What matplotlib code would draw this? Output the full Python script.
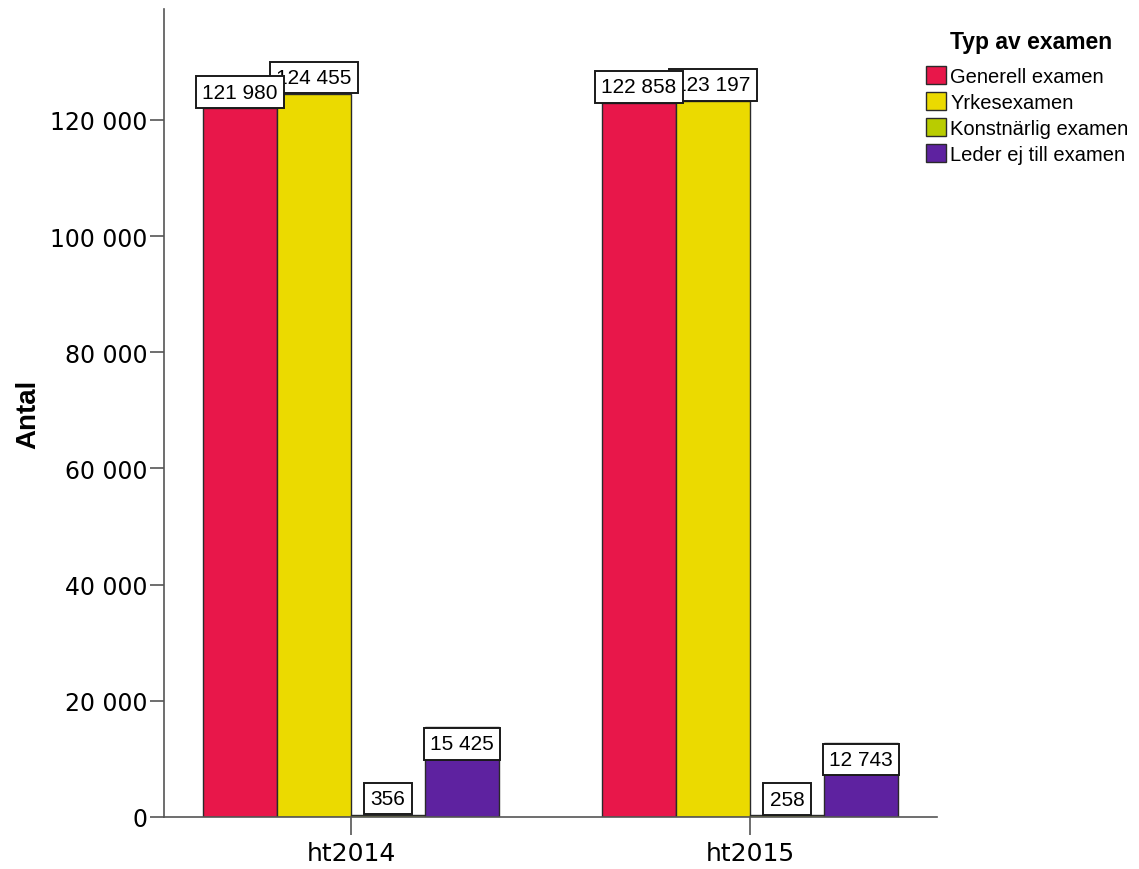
import matplotlib
matplotlib.use("Agg")
import matplotlib.pyplot as plt
import numpy as np
from matplotlib.ticker import FuncFormatter

categories = ["ht2014", "ht2015"]
series_names = ["Generell examen", "Yrkesexamen", "Konstnärlig examen", "Leder ej till examen"]
generell = [121980, 122858]
yrkes = [124455, 123197]
konstnarlig = [356, 258]
leder = [15425, 12743]
series_values = [generell, yrkes, konstnarlig, leder]
colors = ["#E8174A", "#EBDA00", "#B9CC00", "#5E22A0"]
yticks = [0, 20000, 40000, 60000, 80000, 100000, 120000]

def fmt(v):
    return f"{int(v):,}".replace(",", " ")

fig = plt.figure(figsize=(11.39, 8.70), dpi=100)
ax = fig.add_axes([0.144, 0.0598, 0.6787, 0.9287])

x = np.arange(len(categories))
bw = 0.1855
n = len(series_values)
label_inside = [False, False, False, True]
pad = 0.3
for i, (name, vals, c) in enumerate(zip(series_names, series_values, colors)):
    pos = x + (i - (n - 1) / 2) * bw
    ax.bar(pos, vals, width=bw, color=c, edgecolor="#2a2a2a", linewidth=1.0,
           label=name, zorder=2)
    for p, v in zip(pos, vals):
        off = pad * 15 + 0.5
        if label_inside[i]:
            xy_off, va = (0, -off), "top"
        else:
            xy_off, va = (0, off), "bottom"
        ax.annotate(fmt(v), (p, v), xytext=xy_off, textcoords="offset points",
                    ha="center", va=va, fontsize=15, family="Liberation Sans",
                    zorder=10 - i,
                    bbox=dict(boxstyle=f"square,pad={pad}", fc="white", ec="#1a1a1a", lw=1.4))

ax.set_xlim(-0.469, 1.469)
ax.set_ylim(0, 139100)
ax.set_xticks(x)
ax.set_xticklabels(categories, fontsize=18, family="DejaVu Sans")
ax.set_yticks(yticks)
ax.yaxis.set_major_formatter(FuncFormatter(lambda v, p: fmt(v)))
for lab in ax.get_yticklabels():
    lab.set_fontsize(17)
    lab.set_family("DejaVu Sans")
ax.tick_params(axis="x", length=13, width=1.2, color="#555555", pad=4)
ax.tick_params(axis="y", length=10, width=1.2, color="#555555", pad=2)
for s in ["top", "right"]:
    ax.spines[s].set_visible(False)
for s in ["left", "bottom"]:
    ax.spines[s].set_color("#555555")
    ax.spines[s].set_linewidth(1.2)
ax.set_ylabel("Antal", fontsize=20, fontweight="bold", family="Liberation Sans", labelpad=6)

# legend title and entries
fig.text(1031 / 1139, 1 - 42 / 870, "Typ av examen", ha="center", va="center",
         fontsize=16.5, fontweight="bold", family="Liberation Sans")
leg = fig.legend(loc="upper left", bbox_to_anchor=(926 / 1139, 1 - 67 / 870), frameon=False,
                 prop=dict(family="Liberation Sans", size=14.5),
                 handlelength=1.0, handleheight=1.0,
                 handletextpad=0.2, labelspacing=0.3, borderaxespad=0, borderpad=0)

fig.savefig("out.png", dpi=100)
